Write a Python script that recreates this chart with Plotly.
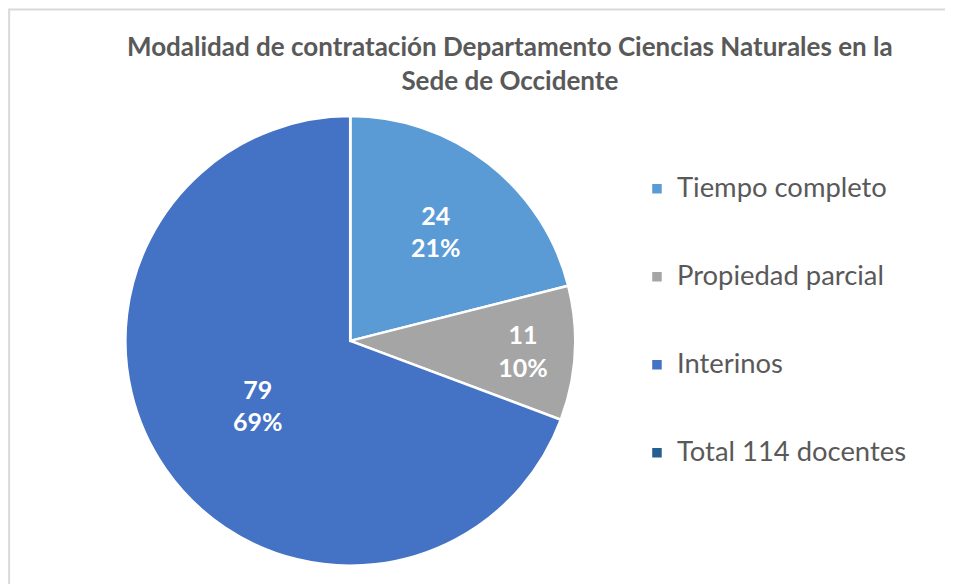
import plotly.graph_objects as go

categorias = ["Tiempo completo", "Propiedad parcial", "Interinos", "Total 114 docentes"]
docentes = [24, 11, 79, 0]
colores = ["#5b9bd5", "#a5a5a5", "#4472c4", "#255e91"]

titulo = "Modalidad de contratación Departamento Ciencias Naturales en la<br>Sede de Occidente"

# blank lines above/below make legend rows as tall as in the original
etiquetas = ["<br><span style='font-size:27.4px'>" + c + "</span><br> " for c in categorias]

fig = go.Figure()
fig.add_trace(
    go.Pie(
        labels=etiquetas,
        values=docentes,
        sort=False,
        direction="clockwise",
        rotation=0,
        marker=dict(colors=colores, line=dict(color="white", width=2.5)),
        texttemplate="<b>%{value}<br>%{percent:.0%}</b>",
        textposition=["inside", "inside", "inside", "none"],
        insidetextorientation="horizontal",
        textfont=dict(color="white", size=25, family="Lato"),
        domain=dict(x=[0.1196, 0.5986], y=[0.045, 0.815]),
        hoverinfo="value+percent",
        showlegend=True,
    )
)

fig.update_layout(
    width=953,
    height=584,
    margin=dict(l=0, r=0, t=0, b=0),
    paper_bgcolor="white",
    plot_bgcolor="white",
    title=dict(
        text=titulo,
        x=0.5266,
        xanchor="center",
        y=0.917,
        yanchor="bottom",
        font=dict(family="Lato", size=26, color="#595959", weight="bold"),
    ),
    legend=dict(
        x=0.660,
        xanchor="left",
        y=0.4636,
        yanchor="middle",
        font=dict(family="Lato", size=21.8, color="#595959"),
        itemwidth=30,
        traceorder="normal",
    ),
    shapes=[
        dict(
            type="rect",
            xref="paper",
            yref="paper",
            x0=0.0012,
            x1=1.01,
            y0=-0.02,
            y1=0.9975,
            line=dict(color="#d9d9d9", width=2),
        )
    ],
)

fig.write_html("out.html")
